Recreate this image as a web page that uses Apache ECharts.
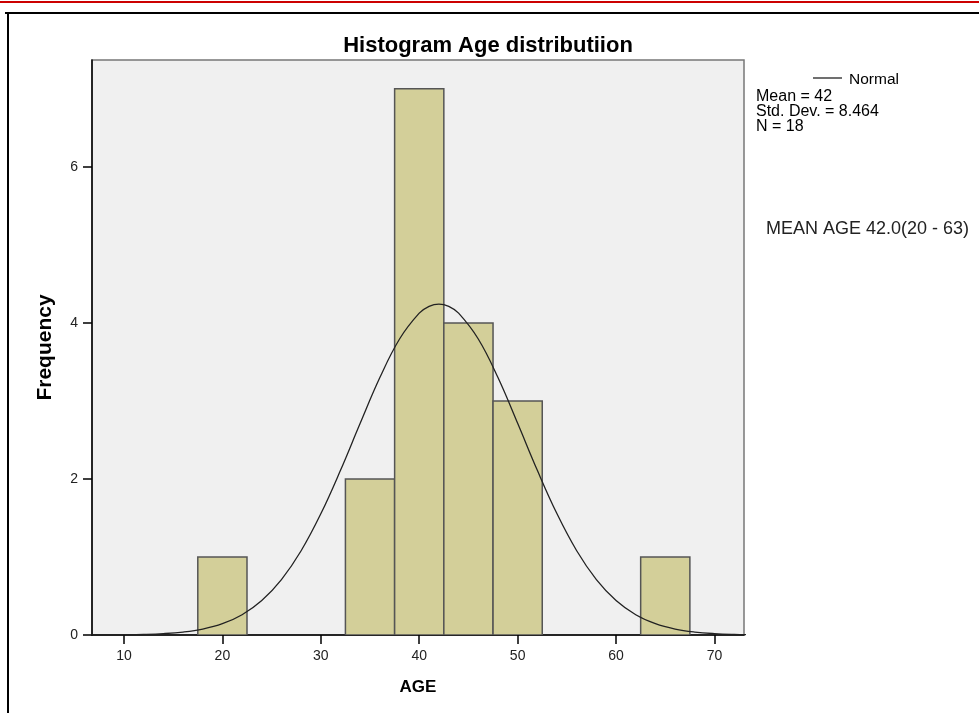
<!DOCTYPE html>
<html>
<head>
<meta charset="utf-8">
<script src="https://cdn.jsdelivr.net/npm/echarts@6/dist/echarts.min.js"></script>
<style>
html,body{margin:0;padding:0;background:#fff;}
#c{width:979px;height:713px;}
</style>
</head>
<body>
<div id="c"></div>
<script>
// Histogram bins (AGE) and frequencies
const binStart = [17.5, 32.5, 37.5, 42.5, 47.5, 62.5];
const binEnd   = [22.5, 37.5, 42.5, 47.5, 52.5, 67.5];
const counts   = [1, 2, 7, 4, 3, 1];
// Normal curve points (x, frequency)
const curveX = [6, 8, 10, 12, 14, 16, 18, 20, 22, 24, 26, 28, 30, 32, 34, 36, 38, 40, 41, 42, 43,
                44, 46, 48, 50, 52, 54, 56, 58, 60, 62, 64, 66, 68, 70, 72, 74, 76, 78];
const curveY = [0.0005, 0.0013, 0.0033, 0.0079, 0.0178, 0.0379, 0.0761, 0.1447, 0.2601, 0.4422, 0.7107,
                1.080, 1.553, 2.111, 2.714, 3.300, 3.794, 4.125, 4.213, 4.242, 4.213,
                4.125, 3.794, 3.300, 2.714, 2.111, 1.553, 1.080, 0.7107, 0.4422, 0.2601, 0.1447,
                0.0761, 0.0379, 0.0178, 0.0079, 0.0033, 0.0013, 0.0005];
const xTicks = [10, 20, 30, 40, 50, 60, 70];
const yTicks = [0, 2, 4, 6];
const statsLines = ['Mean = 42', 'Std. Dev. = 8.464', 'N = 18'];
const noteText = 'MEAN AGE 42.0(20 - 63)';
const titleText = 'Histogram Age distributiion';

const chart = echarts.init(document.getElementById('c'), null, {renderer: 'canvas'});
const FONT = 'Liberation Sans, Arial, sans-serif';

const histData = binStart.map((s, i) => [s, binEnd[i], counts[i]]);
const curveData = curveX.map((x, i) => [x, curveY[i]]);

chart.setOption({
  animation: false,
  backgroundColor: '#ffffff',
  grid: {
    left: 92, right: 235, top: 60, bottom: 78,
    show: true, backgroundColor: '#F0F0F0', borderColor: '#777', borderWidth: 1.5
  },
  xAxis: {
    type: 'value', min: 6.75, max: 73,
    name: 'AGE', nameLocation: 'middle', nameGap: 44,
    nameTextStyle: {fontFamily: FONT, fontWeight: 'bold', fontSize: 17, color: '#000'},
    axisLine: {show: true, onZero: false, lineStyle: {color: '#000', width: 1.5}},
    axisTick: {show: true, length: 9, customValues: xTicks, lineStyle: {color: '#000', width: 1.5}},
    axisLabel: {customValues: xTicks, fontFamily: FONT, fontSize: 14, color: '#222', margin: 14},
    splitLine: {show: false}
  },
  yAxis: {
    type: 'value', min: 0, max: 7.37,
    name: 'Frequency', nameLocation: 'middle', nameGap: 36, nameRotate: 90,
    nameTextStyle: {fontFamily: FONT, fontWeight: 'bold', fontSize: 21, color: '#000'},
    axisLine: {show: true, onZero: false, lineStyle: {color: '#000', width: 1.5}},
    axisTick: {show: true, length: 9, customValues: yTicks, lineStyle: {color: '#000', width: 1.5}},
    axisLabel: {customValues: yTicks, fontFamily: FONT, fontSize: 14, color: '#222', margin: 14},
    splitLine: {show: false}
  },
  series: [
    {
      type: 'custom',
      data: histData,
      encode: {x: [0, 1], y: 2},
      clip: true,
      renderItem: function (params, api) {
        const p0 = api.coord([api.value(0), 0]);
        const p1 = api.coord([api.value(1), api.value(2)]);
        return {
          type: 'rect',
          shape: {x: p0[0], y: p1[1], width: p1[0] - p0[0], height: p0[1] - p1[1]},
          style: {fill: '#D3CF99', stroke: '#555', lineWidth: 1.5}
        };
      },
      z: 2
    },
    {
      type: 'line',
      data: curveData,
      smooth: 0.4,
      showSymbol: false,
      clip: true,
      lineStyle: {color: '#222', width: 1.3},
      z: 3
    }
  ],
  graphic: [
    {type: 'rect', shape: {x: 0, y: 1, width: 979, height: 2}, style: {fill: '#CC0000'}, silent: true},
    {type: 'line', shape: {x1: 5, y1: 13, x2: 979, y2: 13}, style: {stroke: '#000', lineWidth: 2}, silent: true},
    {type: 'line', shape: {x1: 8, y1: 13, x2: 8, y2: 713}, style: {stroke: '#000', lineWidth: 2}, silent: true},
    {type: 'text', x: 488, y: 35,
      style: {text: titleText, x: 0, y: 0, textAlign: 'center', fontFamily: FONT, fontWeight: 'bold', fontSize: 22, fill: '#000'}},
    {type: 'line', shape: {x1: 813, y1: 78, x2: 842, y2: 78}, style: {stroke: '#222', lineWidth: 1.3}},
    {type: 'text', x: 849, y: 72, style: {text: 'Normal', fontFamily: FONT, fontSize: 15.5, fill: '#000'}},
    {type: 'text', x: 756, y: 89, style: {text: statsLines.join('\n'), lineHeight: 15, fontFamily: FONT, fontSize: 16, fill: '#000'}},
    {type: 'text', x: 766, y: 220, style: {text: noteText, fontFamily: FONT, fontSize: 18, fill: '#222'}}
  ]
});
</script>
</body>
</html>
